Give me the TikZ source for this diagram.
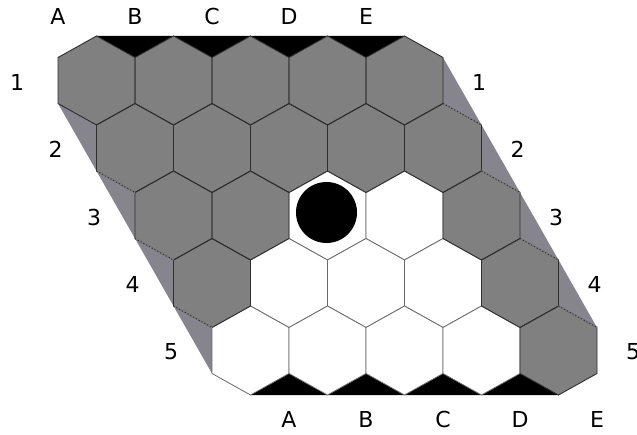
\documentclass[tikz,border=0pt]{standalone}
\usepackage{fontspec}
\setmainfont{DejaVu Sans}
\definecolor{hexgray}{HTML}{808080}
\definecolor{sidegray}{HTML}{86848C}
\definecolor{edgedark}{HTML}{2E2E2E}
\definecolor{edgelight}{HTML}{6A6A6A}
\newcommand\hexpath[2]{(#1,#2-44.5) -- (#1+38.5,#2-23) -- (#1+38.5,#2+23) -- (#1,#2+44.5) -- (#1-38.5,#2+23) -- (#1-38.5,#2-23) -- cycle}
\begin{document}
\begin{tikzpicture}[x=1pt,y=-1pt,
  lbl/.style={font=\fontsize{22}{26}\selectfont, inner sep=0pt, text=black},
  gfill/.style={fill=hexgray},
  wfill/.style={fill=white, draw=edgelight, line width=0.8pt},
  gline/.style={draw=edgedark, line width=0.9pt},
  wline/.style={},
  sidetri/.style={fill=sidegray},
  goal/.style={fill=black},
  bedge/.style={draw=edgedark, line width=0.9pt, dash pattern=on 1.2pt off 2pt}]
\useasboundingbox (0,0) rectangle (637,435);
\fill[white] (0,0) rectangle (637,435);
% side triangles
\foreach \r in {0,...,3}{
  \pgfmathsetmacro\cx{96.5+38.5*\r}
  \pgfmathsetmacro\cy{80.5+67.5*\r}
  \pgfmathsetmacro\ex{\cx+308}
  \path[sidetri] (\cx-38.5,\cy+23) -- (\cx,\cy+44.5) -- (\cx,\cy+90.5) -- cycle;
  \path[sidetri] (\ex+38.5,\cy-23) -- (\ex+77,\cy+44.5) -- (\ex+38.5,\cy+23) -- cycle;
}
% black goal triangles
\foreach \c in {0,...,3}{
  \path[goal] (96.5+77*\c,36) -- (173.5+77*\c,36) -- (135+77*\c,57.5) -- cycle;
  \path[goal] (250.5+77*\c,395) -- (327.5+77*\c,395) -- (289+77*\c,373.5) -- cycle;
}
% cells: fills
\foreach \r/\cols in {0/{g,g,g,g,g},1/{g,g,g,g,g},2/{g,g,w,w,g},3/{g,w,w,w,g},4/{w,w,w,w,g}}{
  \foreach \k [count=\c from 0] in \cols {
    \pgfmathsetmacro\hx{96.5+77*\c+38.5*\r}
    \pgfmathsetmacro\hy{80.5+67.5*\r}
    \path[\k fill] \hexpath{\hx}{\hy};
  }
}
% cells: dark outlines
\foreach \r/\cols in {0/{g,g,g,g,g},1/{g,g,g,g,g},2/{g,g,w,w,g},3/{g,w,w,w,g},4/{w,w,w,w,g}}{
  \foreach \k [count=\c from 0] in \cols {
    \pgfmathsetmacro\hx{96.5+77*\c+38.5*\r}
    \pgfmathsetmacro\hy{80.5+67.5*\r}
    \path[\k line] \hexpath{\hx}{\hy};
  }
}
% dotted edges next to the side triangles
\foreach \r in {0,...,3}{
  \pgfmathsetmacro\cx{96.5+38.5*\r}
  \pgfmathsetmacro\cy{80.5+67.5*\r}
  \pgfmathsetmacro\ex{\cx+308}
  \draw[hexgray, line width=1.4pt] (\ex+38.5,\cy+23) -- (\ex+77,\cy+44.5);
  \path[bedge] (\ex+38.5,\cy+23) -- (\ex+77,\cy+44.5);
}
\foreach \r in {1,...,3}{
  \pgfmathsetmacro\cx{96.5+38.5*\r}
  \pgfmathsetmacro\cy{80.5+67.5*\r}
  \draw[hexgray, line width=1.4pt] (\cx-38.5,\cy+23) -- (\cx,\cy+44.5);
  \path[bedge] (\cx-38.5,\cy+23) -- (\cx,\cy+44.5);
}
% stone
\fill[black] (326.5,212.5) circle (30.5);
% labels
\foreach \t [count=\i from 0] in {A,B,C,D,E}{
  \node[lbl] (top\t) at (58+77*\i,16.5) {\t};
  \node[lbl] (bot\t) at (289+77*\i,419) {\t};
}
\foreach \n [count=\i from 0] in {1,2,3,4,5}{
  \node[lbl] (left\n) at (17+38.5*\i,82+67.5*\i) {\n};
  \node[lbl] (right\n) at (479+38.5*\i,82+67.5*\i) {\n};
}
\end{tikzpicture}
\end{document}
